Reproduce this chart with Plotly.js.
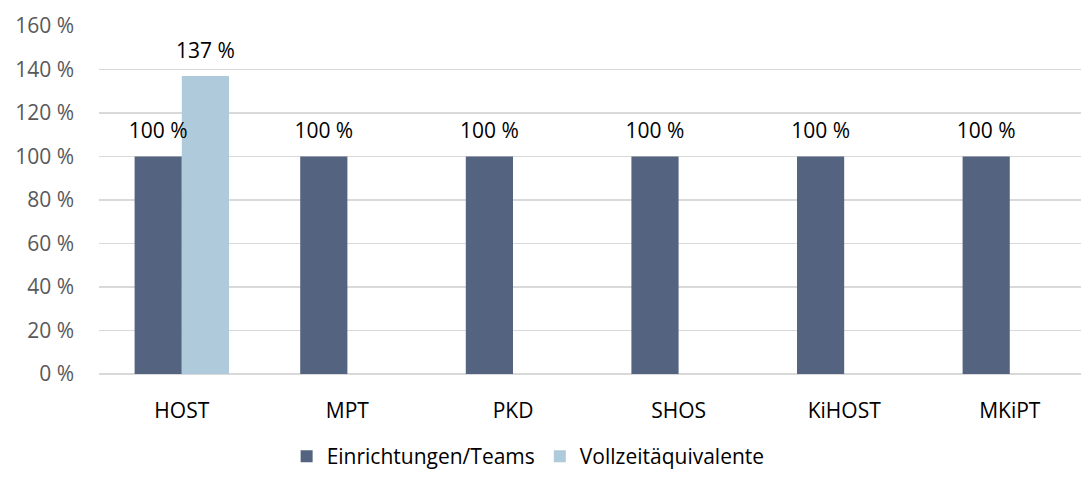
<!DOCTYPE html>
<html>
<head>
<meta charset="utf-8">
<script src="https://cdn.plot.ly/plotly-3.0.1.min.js"></script>
<style>html,body{margin:0;padding:0;background:#fff;}#chart{width:1081px;height:477px;}</style>
</head>
<body>
<div id="chart"></div>
<script>
const categories = ["HOST", "MPT", "PKD", "SHOS", "KiHOST", "MKiPT"];
const einrichtungen = [100, 100, 100, 100, 100, 100];
const vollzeit = [137, null, null, null, null, null];
const seriesNames = ["Einrichtungen/Teams", "Vollzeitäquivalente"];
const yTicks = [0, 20, 40, 60, 80, 100, 120, 140, 160];

const font = "'Open Sans', 'Noto Sans', sans-serif";
const colors = ['#546480', '#AFCADB'];
const fmt = v => v == null ? '' : v + ' %';
const series = [einrichtungen, vollzeit];

const traces = [];
series.forEach((vals, i) => {
  traces.push({type: 'bar', name: seriesNames[i], x: categories, y: vals,
    marker: {color: colors[i]}, hoverinfo: 'none'});
});
series.forEach((vals, i) => {
  traces.push({type: 'scatter', mode: 'markers+text', showlegend: false, x: categories, y: vals,
    text: vals.map(fmt), textposition: 'top center', cliponaxis: false,
    marker: {size: 19, opacity: 0, color: 'rgba(0,0,0,0)'},
    textfont: {color: '#000', size: 21, family: font}, hoverinfo: 'none'});
});

const layout = {
  width: 1081, height: 477,
  margin: {l: 99, r: 0, t: 26, b: 103},
  paper_bgcolor: '#fff', plot_bgcolor: '#fff',
  barmode: 'group', bargap: 0.43, bargroupgap: 0,
  scattermode: 'group', scattergap: 0.43,
  font: {family: font, size: 21, color: '#000'},
  showlegend: true,
  legend: {orientation: 'h', x: 0.437, xanchor: 'center', yref: 'container', y: -0.035, yanchor: 'bottom',
           font: {size: 21, color: '#000', family: font}, tracegroupgap: 0},
  xaxis: {type: 'category', range: [-0.5, 5.43], showgrid: false, zeroline: false, showline: false,
          ticks: '', ticklabelstandoff: 22, tickfont: {size: 21, color: '#000', family: font}},
  yaxis: {range: [0, 160], tickvals: yTicks, ticktext: yTicks.map(v => v + ' %'),
          showgrid: true, gridcolor: '#d9d9d9', gridwidth: 1.5, zeroline: true, zerolinecolor: '#d9d9d9', zerolinewidth: 1.5,
          showline: false, ticks: '', ticklabelstandoff: 24, tickfont: {size: 21, color: '#595959', family: font}}
};
Plotly.newPlot('chart', traces, layout, {displayModeBar: false, staticPlot: true});
</script>
</body>
</html>
